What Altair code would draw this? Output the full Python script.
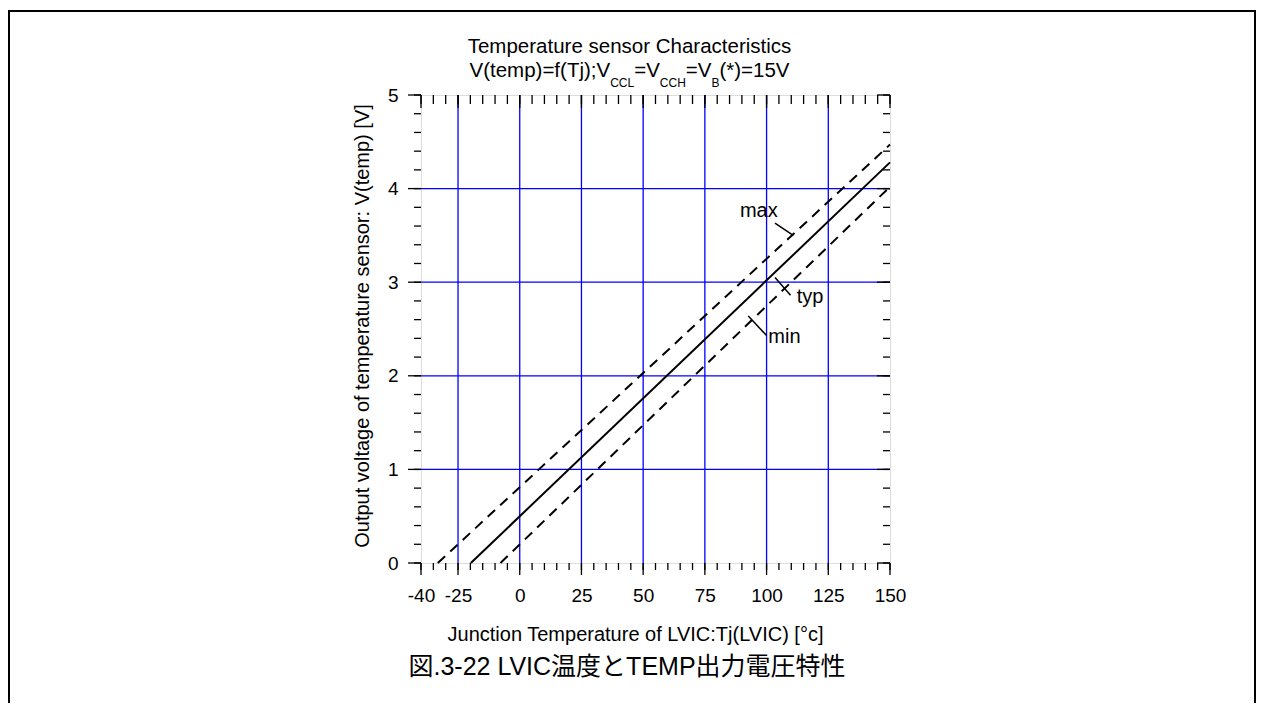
import altair as alt
import pandas as pd

# ---------------- data ----------------
typ_T = [-19.8, 150.0]
typ_V = [0.0, 4.28]
max_T = [-33.2, 150.0]
max_V = [0.0, 4.47]
min_T = [-7.8, 150.0]
min_V = [0.0, 4.02]

x_tick_labels = [-40, -25, 0, 25, 50, 75, 100, 125, 150]
x_grid = [-25, 0, 25, 50, 75, 100, 125]
x_minor = list(range(-40, 151, 5))
y_tick_labels = [0, 1, 2, 3, 4, 5]
y_grid = [1, 2, 3, 4]
y_minor = [i / 5 for i in range(26)]

ann_labels = ["max", "typ", "min"]
ann_text_T = [89.2, 112.2, 100.7]
ann_text_V = [3.70, 2.78, 2.35]
leader_T1 = [103.4, 103.4, 92.6]
leader_V1 = [3.63, 3.05, 2.64]
leader_T2 = [110.8, 109.7, 100.0]
leader_V2 = [3.50, 2.86, 2.43]

title_line1 = "Temperature sensor Characteristics"
title_line2 = [("V(temp)=f(Tj);V", False), ("CCL", True), ("=V", False),
               ("CCH", True), ("=V", False), ("B", True), ("(*)=15V", False)]
x_title = "Junction Temperature of LVIC:Tj(LVIC) [°c]"
y_title = "Output voltage of temperature sensor: V(temp) [V]"
caption = "図.3-22 LVIC温度とTEMP出力電圧特性"

# ---------------- layout ----------------
W, H = 469, 468
PAD = {"left": 413, "top": 87, "right": 366, "bottom": 140}
FONT = "Liberation Sans, Arial, sans-serif"
CJK_FONT = "Liberation Sans, Noto Sans CJK JP, sans-serif"
BLUE = "#0000ff"
TITLE_FS, SUB_FS = 20.5, 12

xs = alt.Scale(domain=[-40, 150], nice=False, zero=False)
ys = alt.Scale(domain=[0, 5], nice=False, zero=False)

x_axis = alt.Axis(
    values=x_tick_labels, labelExpr="'' + datum.value", grid=False, domain=False,
    ticks=True, tickSize=12, tickOpacity=0, labelPadding=11, labelFlush=False,
    labelOverlap=False, labelFont=FONT, labelFontSize=19, labelColor="black",
    title=x_title, titleFont=FONT, titleFontSize=20, titleFontWeight="normal",
    titleColor="black", titleX=214, titleY=77, titleBaseline="alphabetic",
    titleAlign="center")
y_axis = alt.Axis(
    values=y_tick_labels, labelExpr="'' + datum.value", grid=False, domain=False,
    ticks=True, tickSize=13, tickOpacity=0, labelPadding=10, labelFlush=False,
    labelOverlap=False, labelFont=FONT, labelFontSize=19, labelColor="black",
    title=y_title, titleFont=FONT, titleFontSize=20, titleFontWeight="normal",
    titleColor="black", titleX=-59, titleY=230.5, titleAngle=270,
    titleAlign="center", titleBaseline="middle")


def df(**cols):
    return pd.DataFrame(cols)


def X(field="t"):
    return alt.X(f"{field}:Q", scale=xs, axis=x_axis)


def Y(field="v"):
    return alt.Y(f"{field}:Q", scale=ys, axis=y_axis)


# grid
gx = alt.Chart(df(t=x_grid)).mark_rule(color=BLUE, strokeWidth=1.3).encode(x=X())
gy = alt.Chart(df(v=y_grid)).mark_rule(color=BLUE, strokeWidth=1.3).encode(y=Y())


def xticks(vals, y0, y1):
    return alt.Chart(df(t=vals)).mark_rule(color="black", strokeWidth=1.3).encode(
        x=X(), y=alt.value(y0), y2=alt.value(y1))


def yticks(vals, x0, x1):
    return alt.Chart(df(v=vals)).mark_rule(color="black", strokeWidth=1.3).encode(
        y=Y(), x=alt.value(x0), x2=alt.value(x1))


ticks = [
    xticks(x_minor, H, H + 7), xticks(x_tick_labels, H, H + 12),
    xticks(x_minor, 0, 9), xticks(x_tick_labels, 0, 13),
    yticks(y_minor, -7, 0), yticks(y_tick_labels, -13, 0),
    yticks(y_minor, W - 7, W), yticks(y_tick_labels, W - 13, W),
]


def line(T, V, dash=None):
    kw = dict(color="black", strokeWidth=2)
    if dash:
        kw["strokeDash"] = dash
    return alt.Chart(df(t=T, v=V)).mark_line(**kw).encode(x=X(), y=Y())


lines = [line(max_T, max_V, [10, 7]), line(min_T, min_V, [10, 7]), line(typ_T, typ_V)]

leaders = alt.Chart(df(t1=leader_T1, v1=leader_V1, t2=leader_T2, v2=leader_V2)).mark_rule(
    color="black", strokeWidth=1.5).encode(x=X("t1"), y=Y("v1"), x2="t2:Q", y2="v2:Q")

ann = alt.Chart(df(t=ann_text_T, v=ann_text_V, s=ann_labels)).mark_text(
    align="left", baseline="alphabetic", font=FONT, fontSize=20, color="black").encode(
    x=X(), y=Y(), text="s:N")


def text_at(s, x, y, fs, align="left", font=FONT):
    return alt.Chart(df(s=[s])).mark_text(
        align=align, baseline="alphabetic", font=font, fontSize=fs, color="black").encode(
        text="s:N", x=alt.value(x), y=alt.value(y))


# Arial-compatible advance widths (per 1000 em) for the title segments
ADV = {"V": 667, "(": 333, ")": 333, "t": 278, "e": 556, "m": 833, "p": 556, "=": 584,
       "f": 278, "T": 611, "j": 222, ";": 278, "C": 722, "L": 556, "H": 722, "B": 667,
       "*": 389, "1": 556, "5": 556}


def width(s, fs):
    return sum(ADV.get(c, 556) for c in s) * fs / 1000


title_cx = 208.5
texts = [text_at(title_line1, title_cx, -41.7, TITLE_FS, align="center")]
total = sum(width(s, SUB_FS if sub else TITLE_FS) for s, sub in title_line2)
cx = title_cx - total / 2
for s, sub in title_line2:
    fs = SUB_FS if sub else TITLE_FS
    texts.append(text_at(s, cx, -8.3 if sub else -18.3, fs))
    cx += width(s, fs)

texts.append(text_at(caption, 206, 580, 25, align="center", font=CJK_FONT))

frame = alt.Chart(df(a=[0])).mark_rect(fillOpacity=0, stroke="black", strokeWidth=2).encode(
    x=alt.value(-412), x2=alt.value(834), y=alt.value(-84), y2=alt.value(640))

chart = alt.layer(gx, gy, *ticks, *lines, leaders, ann, *texts, frame).properties(
    width=W, height=H, padding=PAD, autosize=alt.AutoSizeParams(type="none"),
).configure_view(stroke="black", strokeWidth=2).configure(background="white")

chart.save("out.html", embed_options={"renderer": "svg", "actions": False})
